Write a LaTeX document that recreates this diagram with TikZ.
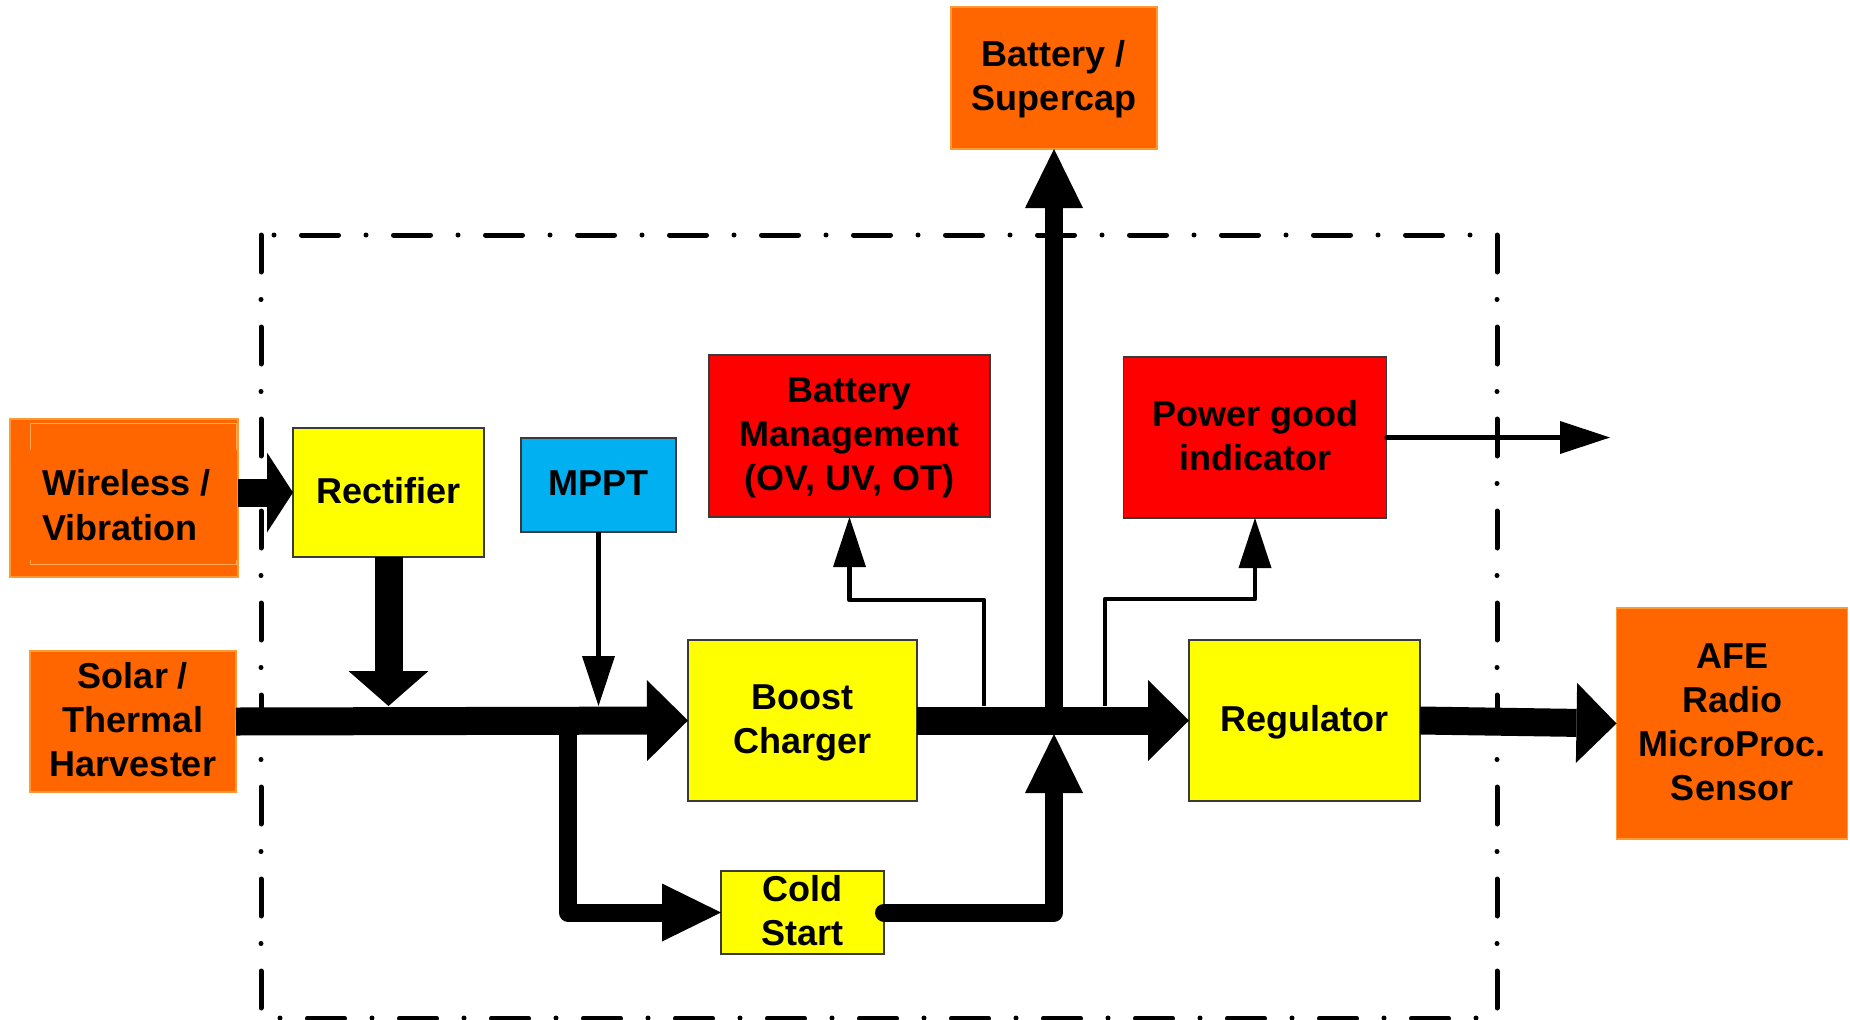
\documentclass[tikz,border=0pt]{standalone}
\usepackage{fontspec}
\setmainfont{Liberation Sans}
\usetikzlibrary{arrows.meta}
\definecolor{orng}{HTML}{FF6600}
\definecolor{orngedge}{HTML}{FF9933}
\definecolor{innerframe}{HTML}{FFAA55}
\definecolor{ylw}{HTML}{FFFF00}
\definecolor{rd}{HTML}{FF0000}
\definecolor{cyn}{HTML}{00B0F0}
\definecolor{edgegray}{HTML}{3A3A3A}
\newcommand{\lnstrut}{\rule[-9pt]{0pt}{39pt}}
\begin{document}
\begin{tikzpicture}[x=1pt,y=-1pt,
  dgtext/.style={inner sep=0pt, outer sep=0pt, font=\fontsize{36}{44}\selectfont\bfseries},
  dgbox/.style={dgtext, rectangle, align=center, line width=1.5pt},
  dgsrc/.style={dgbox, fill=orng, draw=orngedge},
  dgy/.style={dgbox, fill=ylw, draw=edgegray},
  dgr/.style={dgbox, fill=rd, draw=edgegray},
  dgb/.style={dgbox, fill=cyn, draw=edgegray},
  dgbus/.style={line width=28pt},
  dgmed/.style={line width=18pt, line join=round},
  dgsig/.style={line width=4.5pt, line join=round,
    -{Triangle[length=50pt,width=33pt,line width=0pt]}},
  headbig/.style={-{Triangle[length=41pt,width=81pt,line width=0pt]}},
  headmed/.style={-{Triangle[length=59pt,width=58pt,line width=0pt]}},
  dgframe/.style={line width=5pt, line cap=round},
  dashfirst/.style={dash pattern=on 37pt off 27.5pt on 0pt off 27.5pt},
  dotfirst/.style={dash pattern=on 0pt off 27.5pt on 37pt off 27.5pt}
]
\useasboundingbox (0,0) rectangle (1850,1020);

% blocks
\node[dgsrc, minimum width=206pt, minimum height=142pt] (bat) at (1054,78) {\lnstrut Battery /\\\lnstrut Supercap};
\node[dgsrc, minimum width=228pt, minimum height=158pt] (wire) at (124,498) {};
\draw[draw=innerframe, line width=1pt] (30,450) -- (30,423) -- (236,423) -- (236,450);
\draw[draw=innerframe, line width=1pt] (30,560) -- (30,564) -- (236,564) -- (236,560);
\node[dgtext, font=\fontsize{36}{45}\selectfont\bfseries, align=left, anchor=west] (wiretext) at (42.5,507) {\lnstrut Wireless /\\\lnstrut Vibration};
\node[dgy, minimum width=191pt, minimum height=129pt] (rect) at (388.5,492.5) {\lnstrut Rectifier};
\node[dgb, minimum width=155pt, minimum height=94pt] (mppt) at (598.5,485) {\lnstrut MPPT};
\node[dgr, minimum width=281pt, minimum height=162pt] (bm) at (849.5,436) {\lnstrut Battery\\\lnstrut Management\\\lnstrut (OV, UV, OT)};
\node[dgr, minimum width=263pt, minimum height=161pt] (pg) at (1255,437.5) {\lnstrut Power good\\\lnstrut indicator};
\node[dgsrc, minimum width=206pt, minimum height=141pt] (solar) at (133,721.5) {\lnstrut Solar /\\\lnstrut Thermal\\\lnstrut Harvester};
\node[dgy, minimum width=229pt, minimum height=161pt] (boost) at (802.5,720.5) {\lnstrut Boost\\\lnstrut Charger};
\node[dgy, minimum width=231pt, minimum height=161pt] (reg) at (1304.5,720.5) {\lnstrut Regulator};
\node[dgsrc, minimum width=231pt, minimum height=231pt] (afe) at (1732,723.5) {\lnstrut AFE\\\lnstrut Radio\\\lnstrut MicroProc.\\\lnstrut Sensor};
\node[dgy, minimum width=163pt, minimum height=83pt] (cold) at (802.5,912.5) {\lnstrut Cold\\\lnstrut Start};

% junction points
\coordinate (rj) at (388.5,706);
\coordinate (mj) at (598.5,706);
\coordinate (br) at (568,720);
\coordinate (bj) at (1054,720);
\coordinate (cj) at (1054,734);
\coordinate (f1) at (984,706);
\coordinate (f1k) at (984,600);
\coordinate (f2) at (1105,706);
\coordinate (f2k) at (1105,599);
\coordinate (pgout) at (1610,437.5);

% dash-dot frame
\draw[dgframe, dashfirst] (261,235) -- (261,1018);
\draw[dgframe, dotfirst] (274,235) -- (1471,235);
\draw[dgframe, dashfirst] (1497,235) -- (1497,1018);
\draw[dgframe, dotfirst] (280,1018) -- (1497,1018);

% connectors
\draw[dgbus, -{Triangle[length=26pt,width=80pt,line width=0pt]}] (wire.east |- rect.west) -- (rect.west);
\draw[dgbus, -{Triangle[length=35pt,width=80pt,line width=0pt]}] (rect.south) -- (rj);
\draw[dgsig] (mppt.south) -- (mj);
\draw[dgbus, headbig] (solar.east) -- (boost.west);
\draw[dgmed, headmed] (br) |- (cold.west);
\draw[dgmed, line cap=round, headmed] (cold.east) -| (cj);
\draw[dgbus, headbig] (boost.east) -- (reg.west);
\draw[dgmed, headmed] (bj) -- (bat.south);
\draw[dgbus, -{Triangle[length=40pt,width=80pt,line width=0pt]}] (reg.east) -- (afe.west);
\draw[dgsig] (f1) -- (f1k) -| (bm.south);
\draw[dgsig] (f2) -- (f2k) -| (pg.south);
\draw[dgsig, line cap=round] (pg.east) -- (pgout);
\end{tikzpicture}
\end{document}
